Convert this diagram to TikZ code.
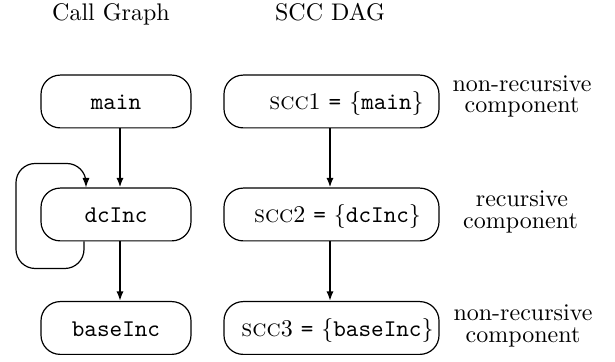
\documentclass[tikz,border=0pt]{standalone}
\usetikzlibrary{arrows.meta,calc}
\begin{document}
\begin{tikzpicture}[x=0.41667pt,y=-0.41667pt,
  box/.style={draw, line width=0.5pt, rounded corners=8pt, inner sep=0pt,
    minimum height=22pt, text height=7.25pt, text depth=0.25pt},
  lbox/.style={box, minimum width=62.5pt},
  rbox/.style={box, minimum width=89.6pt},
  call/.style={line width=0.8pt, -{Latex[length=4pt,width=3pt]}},
  selfloop/.style={line width=0.5pt, rounded corners=8pt, -{Latex[length=4pt,width=3pt]}},
  lab/.style={anchor=base, inner sep=0pt}]
\useasboundingbox (0,0) rectangle (615,362);

% titles
\node[lab] (t1) at (111,21) {Call Graph};
\node[lab] (t2) at (330,21) {SCC DAG};

% call graph
\node[lbox] (main) at (116,101.5) {\texttt{main}};
\node[lbox] (dcInc) at (116,214.5) {\texttt{dcInc}};
\node[lbox] (baseInc) at (116,328) {\texttt{baseInc}};

% SCC DAG
\node[rbox] (s1) at (331.5,101.5) {\hspace*{12.5pt}\textsc{scc}1 \texttt{=} $\{$\texttt{main}$\}$};
\node[rbox] (s2) at (331.5,214.5) {\hspace*{5pt}\textsc{scc}2 \texttt{=} $\{$\texttt{dcInc}$\}$};
\node[rbox] (s3) at (331.5,328) {\hspace*{5pt}\textsc{scc}3 \texttt{=} $\{$\texttt{baseInc}$\}$};

% labels
\node[lab] (l1a) at (522,92) {non-recursive};
\node[lab] (l1b) at (522,113) {component};
\node[lab] (l2a) at (522,207) {recursive};
\node[lab] (l2b) at (520.5,229) {component};
\node[lab] (l3a) at (523,321) {non-recursive};
\node[lab] (l3b) at (523,343) {component};

% edges
\draw[call] ($(main.south)+(4,0)$) -- ($(dcInc.north)+(4,0)$);
\draw[call] ($(dcInc.south)+(4,0)$) -- ($(baseInc.north)+(4,0)$);
\draw[selfloop] ($(dcInc.south)+(-32,0)$) -- ++(0,27) -- ++(-68,0) -- ++(0,-105) -- ++(70,0) -- ($(dcInc.north)+(-30,0)$);

\draw[call] ($(s1.south)+(-1.5,0)$) -- ($(s2.north)+(-1.5,0)$);
\draw[call] ($(s2.south)+(-1.5,0)$) -- ($(s3.north)+(-1.5,0)$);
\end{tikzpicture}
\end{document}
